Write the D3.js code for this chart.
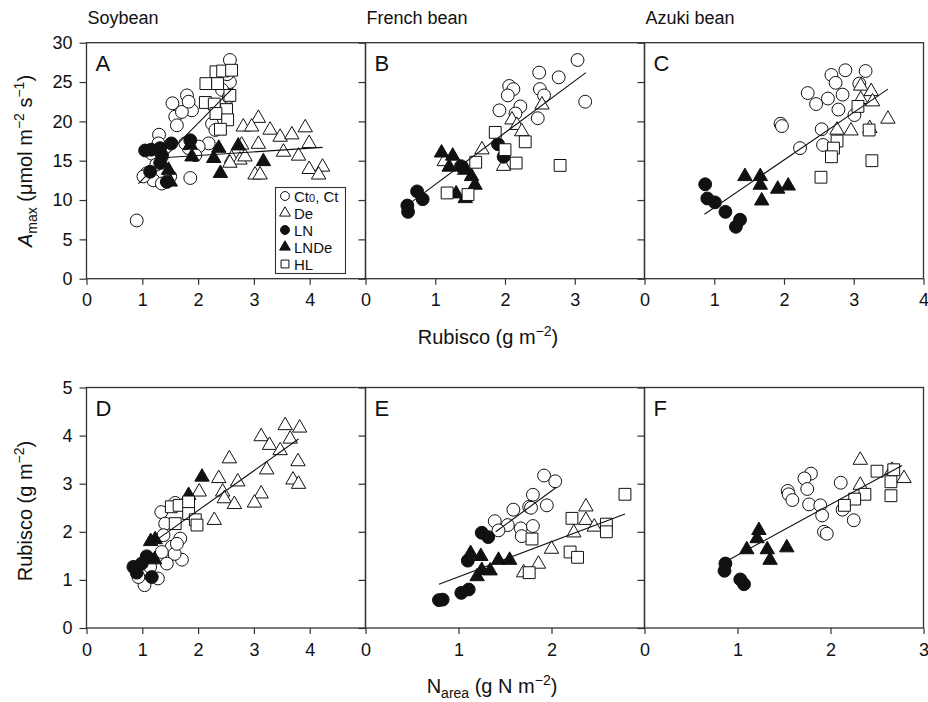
<!DOCTYPE html>
<html><head><meta charset="utf-8">
<script src="https://cdn.jsdelivr.net/npm/d3@7"></script>
<style>
body{margin:0;background:#fff}
text{font-family:"Liberation Sans",Arial,Helvetica,sans-serif;fill:#111}
</style></head>
<body><svg id="c" width="928" height="702"></svg>
<script>
// ---------- data ----------
const species = ["Soybean", "French bean", "Azuki bean"];
const panelLetters = ["A", "B", "C", "D", "E", "F"];
const seriesNames = ["Ct", "De", "LN", "LNDe", "HL"];
const topXDomains = [[0, 5], [0, 4], [0, 4]];
const topXTicks = [[0, 1, 2, 3, 4], [0, 1, 2, 3], [0, 1, 2, 3, 4]];
const botXDomains = [[0, 5], [0, 3], [0, 3]];
const botXTicks = [[0, 1, 2, 3, 4], [0, 1, 2], [0, 1, 2, 3]];
const topYTicks = [0, 5, 10, 15, 20, 25, 30];
const botYTicks = [0, 1, 2, 3, 4, 5];

const A_Ct = [[2.57,27.8],[2.57,25.0],[2.52,26.0],[1.54,22.3],[1.80,23.3],[1.59,20.6],[1.89,21.4],[1.71,21.2],[1.83,22.5],[1.62,19.5],[1.30,18.3],[2.25,19.7],[2.31,18.9],[2.43,24.0],[2.55,23.1],[2.19,17.2],[2.01,16.8],[1.83,16.6],[1.77,17.2],[1.29,17.2],[1.35,15.5],[1.17,15.9],[1.08,13.4],[1.20,12.5],[1.35,12.1],[1.50,13.0],[1.02,13.0],[1.86,12.8],[0.90,7.4],[1.95,15.7],[1.25,14.5]];
const A_De = [[3.08,20.4],[2.81,19.3],[2.96,19.3],[3.29,18.9],[3.47,18.0],[3.68,18.3],[3.92,19.2],[3.08,17.1],[2.78,17.0],[3.99,17.2],[3.53,16.1],[3.80,15.6],[2.60,15.3],[2.75,15.1],[2.84,15.5],[2.57,14.7],[3.02,13.2],[3.11,13.2],[3.99,13.9],[4.23,14.2],[4.16,13.2]];
const A_LN = [[1.16,16.4],[1.32,16.6],[1.52,17.2],[1.86,17.6],[1.35,15.7],[1.14,13.6],[1.32,14.7],[1.44,12.3],[1.05,16.3]];
const A_LNDe = [[1.86,17.0],[1.89,15.5],[2.37,16.6],[2.28,15.3],[2.72,16.9],[3.17,14.9],[2.40,13.4],[1.47,13.8],[1.50,12.3]];
const A_HL = [[2.32,26.3],[2.44,26.4],[2.60,26.5],[2.14,24.8],[2.35,24.8],[2.57,23.3],[2.13,22.4],[2.29,22.2],[2.51,21.5],[2.32,21.0],[2.53,20.2],[2.40,19.0]];
const A_fits = [[[0.93,12.1],[2.63,24.3]], [[1.44,15.4],[4.23,16.7]]];

const B_Ct = [[3.04,27.8],[2.49,26.2],[2.77,25.6],[3.15,22.5],[2.06,24.5],[2.12,24.1],[2.04,23.3],[2.50,24.1],[2.56,23.3],[2.22,21.9],[1.92,21.4],[2.15,21.0],[2.47,20.4]];
const B_De = [[2.53,22.1],[2.10,20.2],[2.17,19.5],[2.24,18.7],[1.67,16.4],[1.98,14.3],[1.13,14.9],[1.42,13.8]];
const B_LN = [[1.90,17.1],[1.98,15.5],[1.37,14.3],[0.74,11.1],[0.82,10.1],[0.60,9.3],[0.61,8.5]];
const B_LNDe = [[1.09,16.0],[1.25,15.6],[1.20,14.2],[1.44,13.9],[1.52,13.0],[1.57,11.9],[1.30,10.8],[1.43,10.2]];
const B_HL = [[1.86,18.6],[2.29,17.4],[2.00,16.4],[1.58,14.8],[2.16,14.7],[2.79,14.4],[1.17,10.9],[1.47,10.7]];
const B_fits = [[[0.64,9.6],[3.16,26.2]]];

const C_Ct = [[2.88,26.5],[3.17,26.4],[2.68,25.9],[2.74,24.9],[2.34,23.6],[2.63,22.9],[2.46,22.2],[2.84,23.4],[3.08,24.8],[2.78,21.5],[3.01,20.8],[1.95,19.7],[1.97,19.4],[2.23,16.6],[2.54,19.0],[2.56,17.0]];
const C_De = [[3.10,24.5],[3.25,23.8],[3.10,22.8],[3.27,22.5],[3.49,20.3],[2.76,18.9],[2.96,18.8],[3.23,19.1]];
const C_LN = [[0.87,12.0],[0.90,10.2],[1.01,9.7],[1.16,8.5],[1.37,7.5],[1.31,6.6]];
const C_LNDe = [[1.44,13.0],[1.66,13.0],[1.66,11.9],[1.68,9.9],[1.91,11.4],[2.06,11.8]];
const C_HL = [[3.06,21.9],[3.22,18.9],[2.76,17.5],[2.71,16.6],[2.68,15.5],[3.26,15.0],[2.53,12.9]];
const C_fits = [[[0.86,8.2],[3.49,24.1]]];

const D_Ct = [[1.59,2.60],[1.34,2.41],[1.41,2.17],[1.68,1.86],[1.53,1.69],[1.71,1.42],[1.58,1.54],[1.35,1.58],[1.44,1.34],[1.28,1.03],[1.04,0.89],[0.93,1.06],[1.14,1.27],[1.38,1.93],[1.62,1.75]];
const D_De = [[3.56,4.21],[3.82,4.16],[3.13,3.98],[3.28,3.80],[3.65,3.93],[3.47,3.69],[2.56,3.52],[3.23,3.29],[3.79,3.46],[2.37,3.11],[2.71,3.04],[3.70,3.08],[3.80,2.99],[2.02,2.83],[2.44,2.83],[2.47,2.69],[3.13,2.79],[2.65,2.57],[3.01,2.60],[2.29,2.24]];
const D_LN = [[0.84,1.27],[0.90,1.15],[1.17,1.06],[1.08,1.49],[0.99,1.34]];
const D_LNDe = [[2.07,3.14],[1.83,2.76],[1.23,1.84],[1.22,1.42],[1.15,1.80]];
const D_HL = [[1.52,2.52],[1.66,2.55],[1.83,2.62],[1.83,2.38],[1.95,2.25],[1.98,2.14],[1.59,2.17]];
const D_fits = [[[1.17,1.76],[3.80,3.93]]];

const E_Ct = [[1.92,3.17],[2.04,3.05],[1.80,2.77],[1.59,2.46],[1.76,2.52],[1.95,2.55],[1.39,2.22],[1.53,2.14],[1.67,2.07],[1.80,2.12],[1.43,2.03],[1.68,1.91],[1.78,2.50]];
const E_De = [[2.37,2.52],[2.37,2.24],[2.46,2.10],[2.24,1.98],[2.00,1.64],[1.86,1.33],[1.70,1.15]];
const E_LN = [[1.25,1.98],[1.32,1.89],[1.10,1.40],[1.11,0.80],[1.03,0.73],[0.83,0.59],[0.79,0.58]];
const E_LNDe = [[1.13,1.55],[1.24,1.49],[1.43,1.41],[1.55,1.41],[1.34,1.19],[1.25,1.20],[1.20,1.07]];
const E_HL = [[2.79,2.78],[2.22,2.28],[2.59,2.16],[2.59,2.00],[1.79,1.85],[2.20,1.58],[2.28,1.47],[1.76,1.15]];
const E_fits = [[[1.40,2.00],[2.05,2.92]], [[0.79,0.91],[2.79,2.37]]];

const F_Ct = [[1.79,3.21],[1.72,3.11],[2.11,3.02],[1.75,2.89],[1.54,2.85],[1.55,2.78],[1.59,2.66],[1.77,2.57],[1.89,2.55],[1.91,2.34],[2.13,2.46],[2.25,2.24],[1.93,2.00],[1.96,1.96]];
const F_De = [[2.32,3.49],[2.79,3.11],[2.32,2.97],[2.66,3.28]];
const F_LN = [[0.87,1.34],[0.86,1.19],[1.03,1.01],[1.07,0.91]];
const F_LNDe = [[1.23,2.03],[1.21,1.86],[1.10,1.63],[1.32,1.63],[1.53,1.67],[1.35,1.41]];
const F_HL = [[2.50,3.26],[2.68,3.29],[2.65,3.04],[2.65,2.75],[2.37,2.78],[2.26,2.68],[2.15,2.55]];
const F_fits = [[[0.90,1.41],[2.77,3.38]]];

// ---------- assemble ----------
const panels = [
  {series:[A_Ct,A_De,A_LN,A_LNDe,A_HL], fits:A_fits},
  {series:[B_Ct,B_De,B_LN,B_LNDe,B_HL], fits:B_fits},
  {series:[C_Ct,C_De,C_LN,C_LNDe,C_HL], fits:C_fits},
  {series:[D_Ct,D_De,D_LN,D_LNDe,D_HL], fits:D_fits},
  {series:[E_Ct,E_De,E_LN,E_LNDe,E_HL], fits:E_fits},
  {series:[F_Ct,F_De,F_LN,F_LNDe,F_HL], fits:F_fits}
];

const svg = d3.select("#c");
const colX = [86.5, 365.5, 644.5];
const colW = 279;
const rows = [{top:42.7, bottom:278.7}, {top:387.5, bottom:628}];
const frameColor = "#333";
const tickFont = 18;

const styles = [
  {type:d3.symbolCircle, size:130, fill:"#fff"},
  {type:d3.symbolTriangle, size:90, fill:"#fff"},
  {type:d3.symbolCircle, size:130, fill:"#111"},
  {type:d3.symbolTriangle, size:90, fill:"#111"},
  {type:d3.symbolSquare, size:140, fill:"#fff"}
];

panels.forEach((p, i) => {
  const r = Math.floor(i / 3), c = i % 3;
  const row = rows[r];
  const dom = r === 0 ? topXDomains[c] : botXDomains[c];
  const xt = r === 0 ? topXTicks[c] : botXTicks[c];
  const x = d3.scaleLinear().domain(dom).range([colX[c], colX[c] + colW]);
  const y = d3.scaleLinear().domain(r === 0 ? [0, 30] : [0, 5]).range([row.bottom, row.top]);
  const yt = r === 0 ? topYTicks : botYTicks;
  const g = svg.append("g");

  g.append("rect").attr("x", colX[c]).attr("y", row.top).attr("width", colW)
    .attr("height", row.bottom - row.top).attr("fill", "none")
    .attr("stroke", frameColor).attr("stroke-width", 1.3);

  const clipId = "clip" + i;
  svg.append("clipPath").attr("id", clipId).append("rect")
    .attr("x", colX[c]).attr("y", row.top).attr("width", colW).attr("height", row.bottom - row.top);

  const xa = g.append("g").attr("transform", `translate(0,${row.bottom})`)
    .call(d3.axisBottom(x).tickValues(xt).tickSize(6).tickPadding(9).tickFormat(d3.format("d")));
  xa.select(".domain").remove();
  xa.selectAll("line").attr("stroke", frameColor).attr("stroke-width", 1.2);
  xa.selectAll("text").attr("font-size", tickFont).attr("fill", "#111");

  const ya = g.append("g").attr("transform", `translate(${colX[c]},0)`)
    .call(d3.axisLeft(y).tickValues(yt).tickSize(7).tickPadding(7)
      .tickFormat(c === 0 ? d3.format("d") : () => ""));
  ya.select(".domain").remove();
  ya.selectAll("line").attr("stroke", frameColor).attr("stroke-width", 1.2);
  ya.selectAll("text").attr("font-size", tickFont).attr("fill", "#111");

  g.append("text").attr("x", colX[c] + 9).attr("y", row.top + 28)
    .attr("font-size", 22).text(panelLetters[i]);

  const pg = g.append("g").attr("clip-path", `url(#${clipId})`);
  p.series.forEach((s, si) => {
    const st = styles[si];
    pg.selectAll(null).data(s).enter().append("path")
      .attr("d", d3.symbol().type(st.type).size(st.size))
      .attr("transform", d => `translate(${x(d[0])},${y(d[1])})`)
      .attr("fill", st.fill).attr("stroke", "#111").attr("stroke-width", 1);
  });
  const line = d3.line().x(d => x(d[0])).y(d => y(d[1]));
  p.fits.forEach(f => {
    pg.append("path").attr("d", line(f)).attr("fill", "none")
      .attr("stroke", "#111").attr("stroke-width", 1.1);
  });

  if (r === 0) {
    svg.append("text").attr("x", colX[c] + 1).attr("y", 24)
      .attr("font-size", 18).text(species[c]);
  }
});

// legend in panel A
const leg = svg.append("g");
leg.append("rect").attr("x", 275.5).attr("y", 187.5).attr("width", 70).attr("height", 86)
  .attr("fill", "#fff").attr("stroke", frameColor).attr("stroke-width", 1.1);
const legLabels = [["Ct", "0", ", Ct"], ["De"], ["LN"], ["LNDe"], ["HL"]];
const legSizes = [62, 50, 62, 50, 62];
seriesNames.forEach((nm, i) => {
  const yy = 196 + i * 17;
  leg.append("path").attr("d", d3.symbol().type(styles[i].type).size(legSizes[i]))
    .attr("transform", `translate(285,${yy})`)
    .attr("fill", styles[i].fill).attr("stroke", "#111").attr("stroke-width", 1);
  const t = leg.append("text").attr("x", 294).attr("y", yy + 5.5).attr("font-size", 15);
  const parts = legLabels[i];
  t.append("tspan").text(parts[0]);
  if (parts.length > 1) {
    t.append("tspan").attr("font-size", 11).text(parts[1]);
    t.append("tspan").attr("font-size", 15).text(parts[2]);
  }
});

// axis titles
const tf = 20, sf = 14;
const yl1 = svg.append("text").attr("transform", "translate(32,161) rotate(-90)")
  .attr("text-anchor", "middle").attr("font-size", tf);
yl1.append("tspan").attr("font-style", "italic").text("A");
yl1.append("tspan").attr("font-size", sf).attr("dy", 5).text("max");
yl1.append("tspan").attr("dy", -5).text(" (μmol m");
yl1.append("tspan").attr("font-size", sf).attr("dy", -8).text("−2");
yl1.append("tspan").attr("dy", 8).text(" s");
yl1.append("tspan").attr("font-size", sf).attr("dy", -8).text("−1");
yl1.append("tspan").attr("dy", 8).text(")");

const yl2 = svg.append("text").attr("transform", "translate(32,511) rotate(-90)")
  .attr("text-anchor", "middle").attr("font-size", tf);
yl2.append("tspan").text("Rubisco (g m");
yl2.append("tspan").attr("font-size", sf).attr("dy", -8).text("−2");
yl2.append("tspan").attr("dy", 8).text(")");

const xl1 = svg.append("text").attr("x", 488).attr("y", 344)
  .attr("text-anchor", "middle").attr("font-size", tf);
xl1.append("tspan").text("Rubisco (g m");
xl1.append("tspan").attr("font-size", sf).attr("dy", -8).text("−2");
xl1.append("tspan").attr("dy", 8).text(")");

const xl2 = svg.append("text").attr("x", 492).attr("y", 693)
  .attr("text-anchor", "middle").attr("font-size", tf);
xl2.append("tspan").text("N");
xl2.append("tspan").attr("font-size", sf).attr("dy", 5).text("area");
xl2.append("tspan").attr("dy", -5).text(" (g N m");
xl2.append("tspan").attr("font-size", sf).attr("dy", -8).text("−2");
xl2.append("tspan").attr("dy", 8).text(")");
</script></body></html>
